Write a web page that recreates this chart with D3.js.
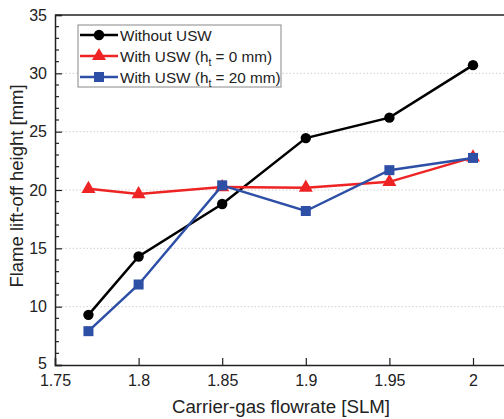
<!DOCTYPE html>
<html>
<head>
<meta charset="utf-8">
<script src="https://cdn.jsdelivr.net/npm/d3@7"></script>
<style>
  body { margin: 0; background: #fff; font-family: 'Liberation Sans', Arial, sans-serif; }
  svg { display: block; }
</style>
</head>
<body>
<svg width="504" height="419"></svg>
<script>
// data
var flowrate = [1.77, 1.8, 1.85, 1.9, 1.95, 2.0];
var withoutUSW = [9.3, 14.3, 18.8, 24.45, 26.2, 30.7];
var usw0 = [20.1, 19.65, 20.25, 20.2, 20.7, 22.8];
var usw20 = [7.9, 11.9, 20.4, 18.2, 21.7, 22.75];
var xTicks = [1.75, 1.8, 1.85, 1.9, 1.95, 2];
var yTicks = [5, 10, 15, 20, 25, 30, 35];

var series = [
  { name: "Without USW", values: withoutUSW, color: "#000000", marker: "circle" },
  { name: "0", values: usw0, color: "#ee2424", marker: "triangle" },
  { name: "20", values: usw20, color: "#2d4fa6", marker: "square" }
];

var svg = d3.select("svg");
var margin = { left: 55, top: 15, bottom: 54 };
var H = 419;

var x = d3.scaleLinear().domain([1.75, 2.05]).range([55, 55 + 83.6 * 6]);
var y = d3.scaleLinear().domain([5, 35]).range([H - margin.bottom, margin.top]);

// dotted grid lines at major y ticks
svg.append("g").selectAll("line")
  .data(yTicks.filter(function(d) { return d > 5 && d < 35; }))
  .enter().append("line")
  .attr("x1", x(1.75)).attr("x2", 504)
  .attr("y1", function(d) { return y(d); }).attr("y2", function(d) { return y(d); })
  .attr("stroke", "#d0d0d0").attr("stroke-width", 1).attr("stroke-dasharray", "1.5,2");

// y axis, ticks pointing inward
var yAxis = d3.axisLeft(y).tickValues(yTicks).tickSize(-7).tickPadding(8).tickFormat(d3.format("d"));
var gy = svg.append("g").attr("transform", "translate(" + x(1.75) + ",0)").call(yAxis);
gy.select(".domain").attr("stroke", "#222").attr("stroke-width", 1.5);
gy.selectAll(".tick line").attr("stroke", "#222").attr("stroke-width", 1.2);
gy.selectAll("text").attr("font-size", 16).attr("fill", "#222")
  .attr("font-family", "'Liberation Sans', Arial, sans-serif");
// lift the bottom label a little so it clears the x labels
gy.selectAll("text").filter(function(d) { return d === 5; }).attr("dy", "0.2em");

// minor y ticks
svg.append("g").selectAll("line")
  .data(d3.range(6, 35).filter(function(d) { return d % 5 !== 0; }))
  .enter().append("line")
  .attr("x1", x(1.75)).attr("x2", x(1.75) + 4)
  .attr("y1", function(d) { return y(d); }).attr("y2", function(d) { return y(d); })
  .attr("stroke", "#222").attr("stroke-width", 1.2);

// x axis
var xAxis = d3.axisBottom(x).tickValues(xTicks).tickSize(-7).tickPadding(10)
  .tickFormat(function(d) { return d3.format("")(+d.toFixed(2)); });
var gx = svg.append("g").attr("transform", "translate(0," + y(5) + ")").call(xAxis);
gx.select(".domain").attr("stroke", "#222").attr("stroke-width", 1.5);
gx.selectAll(".tick line").attr("stroke", "#222").attr("stroke-width", 1.2);
gx.selectAll("text").attr("font-size", 16).attr("fill", "#222")
  .attr("font-family", "'Liberation Sans', Arial, sans-serif");

// top frame
svg.append("line").attr("x1", x(1.75)).attr("x2", 504)
  .attr("y1", y(35)).attr("y2", y(35)).attr("stroke", "#222").attr("stroke-width", 1.5);

// axis titles
svg.append("text").attr("x", 281).attr("y", 413).attr("text-anchor", "middle")
  .attr("font-size", 18.7).attr("fill", "#222").text("Carrier-gas flowrate [SLM]");
svg.append("text").attr("transform", "translate(23,186) rotate(-90)")
  .attr("text-anchor", "middle").attr("font-size", 18.5).attr("fill", "#222")
  .text("Flame lift-off height [mm]");

var line = d3.line().x(function(d, i) { return x(flowrate[i]); }).y(function(d) { return y(d); });

function drawMarker(g, type, cx, cy, color) {
  if (type === "circle") {
    g.append("circle").attr("cx", cx).attr("cy", cy).attr("r", 5.2).attr("fill", color);
  } else if (type === "square") {
    g.append("rect").attr("x", cx - 5).attr("y", cy - 5).attr("width", 10).attr("height", 10).attr("fill", color);
  } else {
    g.append("path").attr("d", d3.symbol().type(d3.symbolTriangle).size(85)())
      .attr("transform", "translate(" + cx + "," + cy + ")").attr("fill", color);
  }
}

series.forEach(function(s) {
  var g = svg.append("g");
  g.append("path").datum(s.values).attr("d", line)
    .attr("fill", "none").attr("stroke", s.color).attr("stroke-width", 2.5);
  s.values.forEach(function(v, i) { drawMarker(g, s.marker, x(flowrate[i]), y(v), s.color); });
});

// legend
var leg = svg.append("g");
leg.append("rect").attr("x", 78).attr("y", 25).attr("width", 203).attr("height", 62)
  .attr("fill", "#fff").attr("stroke", "#888").attr("stroke-width", 1);
var rowY = [35, 56, 77];
series.forEach(function(s, i) {
  var ly = rowY[i];
  leg.append("line").attr("x1", 80).attr("x2", 118).attr("y1", ly).attr("y2", ly)
    .attr("stroke", s.color).attr("stroke-width", 2.5);
  drawMarker(leg, s.marker, 99, ly, s.color);
  var t = leg.append("text").attr("x", 120).attr("y", ly + 5.5).attr("font-size", 15.3).attr("fill", "#222");
  if (i === 0) {
    t.text(s.name);
  } else {
    t.append("tspan").text("With USW (h");
    t.append("tspan").attr("font-size", 10.5).attr("dy", 4).text("t");
    t.append("tspan").attr("dy", -4).text(" = " + s.name + " mm)");
  }
});
</script>
</body>
</html>
